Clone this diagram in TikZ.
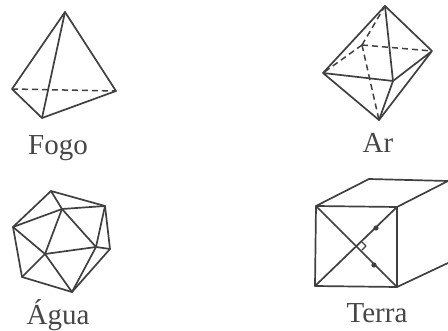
\documentclass[tikz,border=0pt]{standalone}
\usepackage{fontspec}
\setmainfont{Liberation Serif}
\tikzset{
  edge/.style={draw=black!75,line width=1.7pt,line join=round,line cap=round},
  hidden/.style={edge,line width=1.5pt,dash pattern=on 6pt off 4pt,line cap=butt},
  thinedge/.style={edge,line width=1.2pt},
  lbl/.style={text=black!72,font=\fontsize{29}{31}\selectfont,anchor=base,inner sep=0pt}
}
\begin{document}
\begin{tikzpicture}[x=1pt,y=-1pt]
\useasboundingbox (0,0) rectangle (448,331);
% Fogo
\coordinate (fa) at (65,12);
\coordinate (fl) at (12,89);
\coordinate (fb) at (42,118);
\coordinate (fr) at (116,91);
\draw[edge] (fl)--(fa)--(fr)--(fb)--(fl);
\draw[edge] (fa)--(fb);
\draw[hidden] (fl)--(fr);
\node[lbl] (fogo) at (58,155) {Fogo};
% Ar
\coordinate (at) at (385,6);
\coordinate (al) at (323,73);
\coordinate (ar) at (432,51);
\coordinate (af) at (393,81);
\coordinate (ab) at (379,120);
\coordinate (ak) at (362,45);
\draw[edge] (al)--(at)--(ar)--(ab)--(al)--(af)--(ar);
\draw[edge] (at)--(af)--(ab);
\draw[hidden] (ak)--(at);
\draw[hidden] (ak)--(al);
\draw[hidden] (ak)--(ar);
\draw[hidden] (ak)--(ab);
\node[lbl] (arlabel) at (378,153) {Ar};
% Agua
\coordinate (i1) at (51,191);
\coordinate (i2) at (105,206);
\coordinate (i3) at (110,249);
\coordinate (i4) at (72,292);
\coordinate (i5) at (22,277);
\coordinate (i6) at (13,227);
\coordinate (ia) at (62,209);
\coordinate (ib) at (96,247);
\coordinate (ic) at (45,254);
\draw[edge] (i1)--(i2)--(i3)--(i4)--(i5)--(i6)--cycle;
\draw[edge] (i1)--(ia)--(i2)--(ib)--(i3);
\draw[edge] (i6)--(ia)--(ib)--(i4)--(ic)--(i6);
\draw[edge] (ia)--(ic)--(ib);
\draw[edge] (ic)--(i5);
\node[lbl] (agua) at (58,324.5) {Água};
% Terra
\coordinate (ta) at (316,206);
\coordinate (tb) at (397,207);
\coordinate (tc) at (397,287);
\coordinate (td) at (315,286);
\coordinate (te) at (369,179);
\coordinate (tf) at (448,181);
\coordinate (tg) at (448,263);
\coordinate (tm) at (358,246);
\draw[edge] (ta)--(tb)--(tc)--(td)--cycle;
\draw[edge] (ta)--(tc);
\draw[edge] (td)--(tb);
\draw[edge] (ta)--(te)--(tf);
\draw[edge] (tb)--(tf);
\draw[edge] (tc)--(tg);
\draw[thinedge] (tm)++(4,-4)--++(4,4)--++(-4,4);
\fill[black!75] (376,228) circle (2.6pt);
\fill[black!75] (374,265) circle (2.6pt);
\node[lbl] (terra) at (377,323) {Terra};
\end{tikzpicture}
\end{document}
